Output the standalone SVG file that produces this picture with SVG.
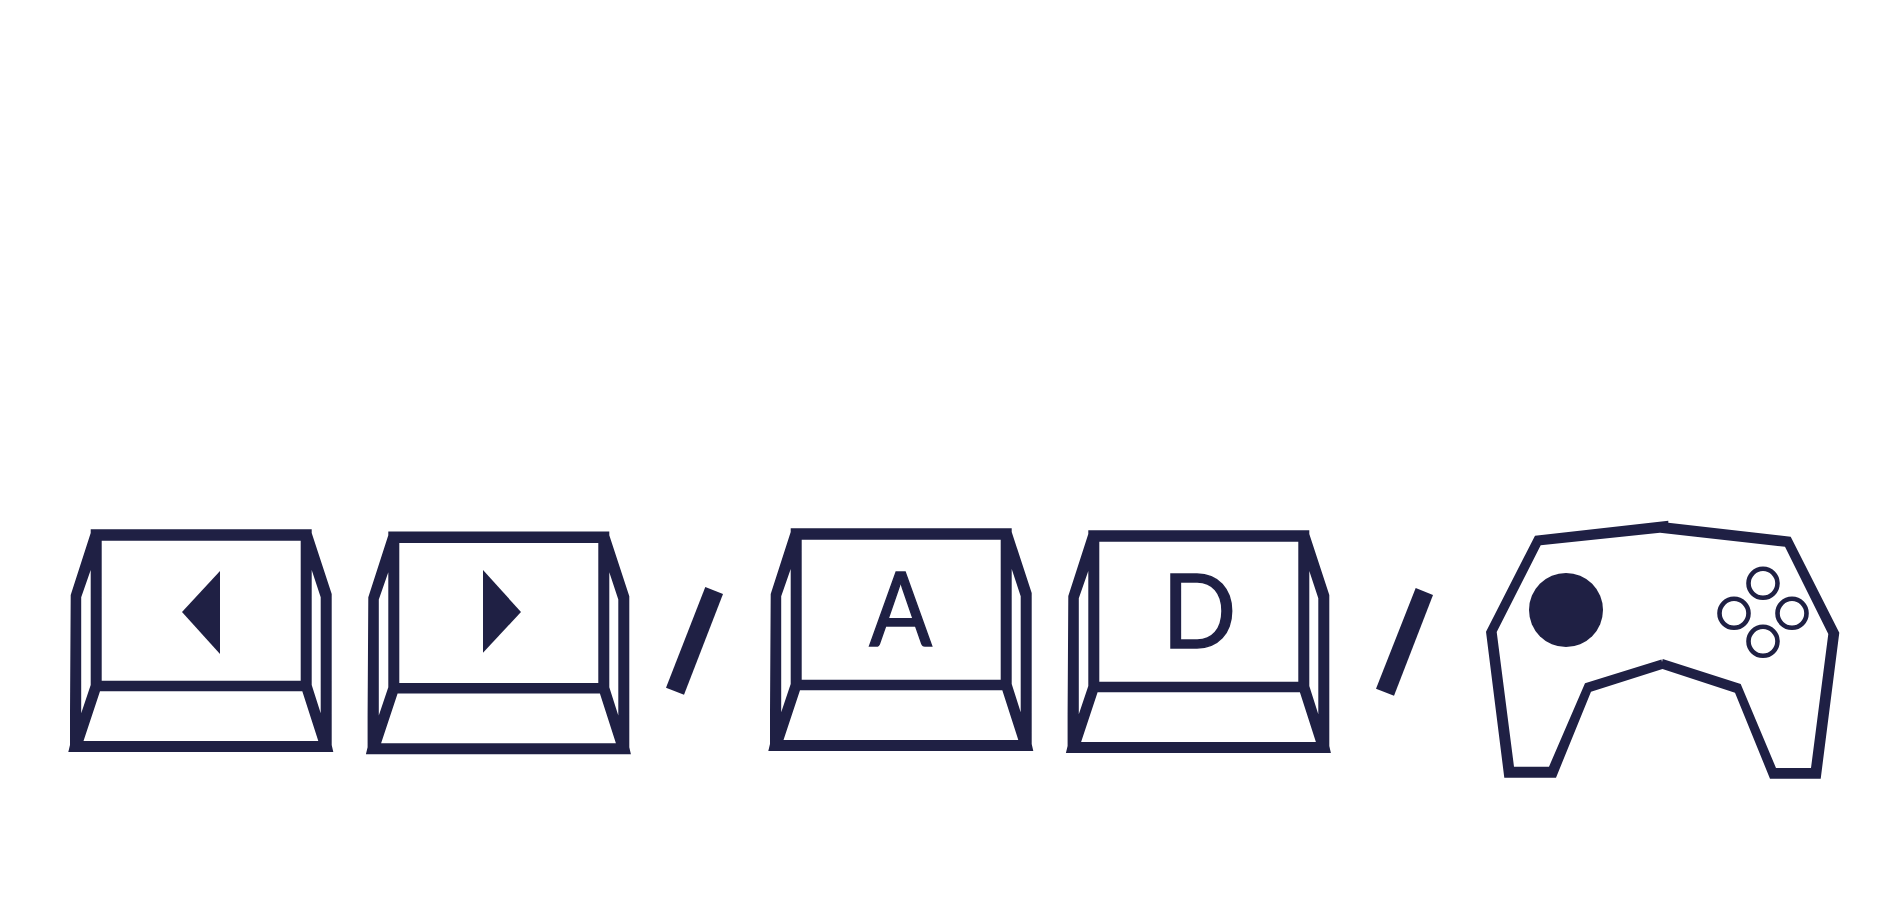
<svg xmlns="http://www.w3.org/2000/svg" width="1892" height="912" viewBox="0 0 1892 912">
<style>
.ink{fill:#1f2044}
.key{fill:#1f2044;fill-rule:evenodd}
.lbl{fill:#1f2044;stroke:#1f2044;stroke-width:1.5;font-family:"Lato","Open Sans",sans-serif;font-size:103px}
.ring{fill:none;stroke:#1f2044;stroke-width:4.6}
</style>
<defs>
<path id="keycap" class="key" d="M90.7 529.3H311.7V533L331.7 594V745L333.3 752H68.3L70 745V713L70.7 595L90.7 533Z M101.7 540.7V680.7H300.7V540.7Z M100 691.3L83.5 741H318.3L302.3 691.3Z M90.7 570L81.2 597.3V713.3L90.7 685Z M311.7 570V685L320.7 713.3V597.3Z"/>
</defs>
<rect width="1892" height="912" fill="#ffffff"/>
<g id="key-left">
<use href="#keycap"/>
<polygon class="ink" points="220,571 182,612 220,654"/>
</g>
<g id="key-right">
<use href="#keycap" x="297.6" y="2.3"/>
<polygon class="ink" points="483,570 521,612 483,652.7"/>
</g>
<polygon id="slash-1" class="ink" points="705.3,587 723,594 684,694.7 666,687.7"/>
<g id="key-a">
<use href="#keycap" x="700" y="-1"/>
<text class="lbl" transform="translate(900.7 646.3) scale(.9 1)" text-anchor="middle">A</text>
</g>
<g id="key-d">
<use href="#keycap" x="997.6" y="1"/>
<text class="lbl" transform="translate(1162 647.6) scale(.95 1)">D</text>
</g>
<polygon id="slash-2" class="ink" points="1415.7,588 1433,595 1394,695.7 1376,688.7"/>
<g id="gamepad">
<path class="key" d="M1668.3 520.7V522.7L1790.7 536.7L1839.3 632.7L1820.7 778.7H1770L1735 692.7L1662.5 669L1591 691.7L1556 777.7H1504.3L1486 631.7L1535 535.7Z M1660 532.7L1540.7 545.3L1496.7 632L1514 766.7H1549L1585 683.3L1661.5 659.5L1662 662L1662.7 659L1740.7 684L1776 768H1811L1828.3 634L1785 546.7Z"/>
<circle class="ink" cx="1566" cy="610" r="37"/>
<circle class="ring" cx="1763" cy="583.3" r="14.5"/>
<circle class="ring" cx="1734" cy="613.3" r="14.5"/>
<circle class="ring" cx="1792" cy="613.3" r="14.5"/>
<circle class="ring" cx="1763" cy="641.3" r="14.5"/>
</g>
</svg>
